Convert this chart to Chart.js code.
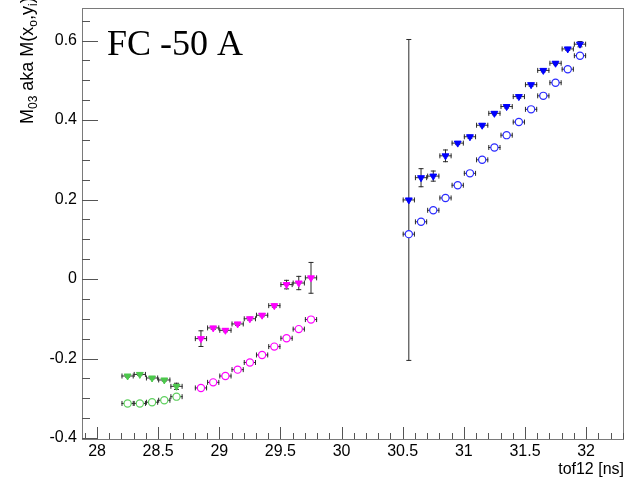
<!DOCTYPE html>
<html><head><meta charset="utf-8">
<script src="https://cdn.jsdelivr.net/npm/chart.js@4/dist/chart.umd.min.js"></script>
<style>html,body{margin:0;padding:0;background:#fff}canvas{display:block}</style>
</head><body>
<canvas id="c" width="630" height="479"></canvas>
<script>
// ---- data ----
const xGreen = [28.25, 28.35, 28.45, 28.55, 28.65];
const greenTri = [-0.244, -0.240, -0.249, -0.254, -0.270];
const greenTriErr = [0.004, 0.004, 0.004, 0.004, 0.009];
const greenCirc = [-0.313, -0.313, -0.310, -0.305, -0.296];

const xMag = [28.85, 28.95, 29.05, 29.15, 29.25, 29.35, 29.45, 29.55, 29.65, 29.75];
const magTri = [-0.150, -0.123, -0.129, -0.113, -0.100, -0.091, -0.067, -0.014, -0.010, 0.003];
const magTriErr = [0.021, 0.005, 0.005, 0.005, 0.005, 0.005, 0.005, 0.012, 0.018, 0.040];
const magCirc = [-0.274, -0.260, -0.244, -0.228, -0.210, -0.191, -0.170, -0.149, -0.126, -0.102];

const xBlue = [30.55, 30.65, 30.75, 30.85, 30.95, 31.05, 31.15, 31.25, 31.35, 31.45, 31.55, 31.65, 31.75, 31.85, 31.95];
const blueTri = [0.199, 0.255, 0.259, 0.310, 0.342, 0.358, 0.387, 0.417, 0.434, 0.459, 0.489, 0.525, 0.543, 0.579, 0.591];
const blueTriErr = [0.405, 0.024, 0.014, 0.016, 0.005, 0.005, 0.005, 0.005, 0.005, 0.005, 0.005, 0.005, 0.005, 0.005, 0.008];
const blueCirc = [0.113, 0.144, 0.173, 0.204, 0.236, 0.266, 0.300, 0.331, 0.362, 0.395, 0.427, 0.461, 0.494, 0.528, 0.562];

const xHalfBin = 0.05;
const xTickLabels = [28, 28.5, 29, 29.5, 30, 30.5, 31, 31.5, 32];
const yTickLabels = [-0.4, -0.2, 0, 0.2, 0.4, 0.6];
const plotTitle = 'FC -50 A';
const xTitle = 'tof12 [ns]';

// ---- build datasets ----
function pts(xs, ys, ex, ey) {
  return xs.map((x, i) => ({x: x, y: ys[i], ex: ex, ey: ey ? ey[i] : 0}));
}
const GREEN = '#4cc84c', GREEN_C = '#5ed05e', MAG = '#ff00ff', BLUE = '#0000ff', BLUE_C = '#2a2aff';
function triSet(data, col) {
  return {data, pointStyle: 'triangle', rotation: 180, radius: 4, backgroundColor: col, borderColor: col, borderWidth: 1};
}
function circSet(data, col) {
  return {data, pointStyle: 'circle', radius: 3.6, backgroundColor: '#ffffff', borderColor: col, borderWidth: 1.2};
}

const errorBars = {
  id: 'errorBars',
  beforeDatasetsDraw(chart) {
    const {ctx, scales: {x, y}} = chart;
    ctx.save();
    ctx.strokeStyle = '#2a2a2a';
    ctx.lineWidth = 1;
    chart.data.datasets.forEach(ds => {
      ds.data.forEach(p => {
        const px = x.getPixelForValue(p.x), py = y.getPixelForValue(p.y);
        const x0 = x.getPixelForValue(p.x - p.ex), x1 = x.getPixelForValue(p.x + p.ex);
        ctx.beginPath();
        ctx.moveTo(x0, py); ctx.lineTo(x1, py);
        ctx.moveTo(x0 + 0.5, py - 2.5); ctx.lineTo(x0 + 0.5, py + 2.5);
        ctx.moveTo(x1 - 0.5, py - 2.5); ctx.lineTo(x1 - 0.5, py + 2.5);
        if (p.ey > 0) {
          const y0 = y.getPixelForValue(p.y - p.ey), y1 = y.getPixelForValue(p.y + p.ey);
          ctx.moveTo(px, y0); ctx.lineTo(px, y1);
          ctx.moveTo(px - 2.5, y0 - 0.5); ctx.lineTo(px + 2.5, y0 - 0.5);
          ctx.moveTo(px - 2.5, y1 + 0.5); ctx.lineTo(px + 2.5, y1 + 0.5);
        }
        ctx.stroke();
      });
    });
    ctx.restore();
  }
};

const frameAndText = {
  id: 'frameAndText',
  afterDraw(chart) {
    const {ctx, chartArea: a, scales: {x, y}} = chart;
    ctx.save();
    // frame
    ctx.strokeStyle = '#7a7a7a';
    ctx.lineWidth = 1;
    ctx.strokeRect(a.left + 0.5, a.top + 0.5, a.right - a.left - 1, a.bottom - a.top);
    // ticks
    ctx.strokeStyle = '#555';
    ctx.beginPath();
    for (let k = Math.ceil(x.min * 10); k <= Math.floor(x.max * 10); k++) {
      const v = k / 10, px = Math.round(x.getPixelForValue(v)) + 0.5;
      const len = (k % 5 === 0) ? 12 : 6;
      ctx.moveTo(px, a.bottom); ctx.lineTo(px, a.bottom - len);
    }
    for (let k = Math.ceil(y.min * 20); k <= Math.floor(y.max * 20); k++) {
      const v = k / 20, py = Math.round(y.getPixelForValue(v)) + 0.5;
      const len = (k % 4 === 0) ? 16 : 8;
      ctx.moveTo(a.left, py); ctx.lineTo(a.left + len, py);
    }
    ctx.stroke();
    // title
    ctx.fillStyle = '#000';
    ctx.font = '36px "Liberation Serif"';
    ctx.textBaseline = 'alphabetic';
    ctx.textAlign = 'left';
    ctx.fillText(plotTitle, 107, 55);
    // y-axis title with subscripts
    ctx.translate(33, 124);
    ctx.rotate(-Math.PI / 2);
    const big = '18px "Liberation Sans"', small = '12px "Liberation Sans"';
    const parts = [['M', 0], ['03', 1], [' aka M(x', 0], ['o', 1], [',y', 0], ['i', 1], [')', 0]];
    let cx = 0;
    parts.forEach(([t, sub]) => {
      ctx.font = sub ? small : big;
      ctx.fillText(t, cx, sub ? 4 : 0);
      cx += ctx.measureText(t).width;
    });
    ctx.restore();
  }
};

new Chart(document.getElementById('c'), {
  type: 'scatter',
  data: {
    datasets: [
      circSet(pts(xGreen, greenCirc, xHalfBin), GREEN_C),
      triSet(pts(xGreen, greenTri, xHalfBin, greenTriErr), GREEN),
      circSet(pts(xMag, magCirc, xHalfBin), MAG),
      triSet(pts(xMag, magTri, xHalfBin, magTriErr), MAG),
      circSet(pts(xBlue, blueCirc, xHalfBin), BLUE_C),
      triSet(pts(xBlue, blueTri, xHalfBin, blueTriErr), BLUE)
    ]
  },
  options: {
    responsive: false,
    animation: false,
    layout: {padding: {top: 8, right: 6, left: 0, bottom: 0}},
    plugins: {legend: {display: false}, tooltip: {enabled: false}},
    scales: {
      x: {
        type: 'linear', min: 27.877, max: 32.31,
        afterBuildTicks: s => { s.ticks = xTickLabels.map(v => ({value: v})); },
        afterFit: s => { s.height = 40; s.paddingLeft = 0; s.paddingRight = 0; s.paddingTop = 0; s.paddingBottom = 0; },
        grid: {display: false, drawTicks: false},
        border: {display: false},
        ticks: {autoSkip: false, maxRotation: 0, padding: 3, color: '#000',
                font: {family: 'Liberation Sans', size: 16},
                callback: v => String(v)},
        title: {display: true, text: xTitle, align: 'end', color: '#000',
                font: {family: 'Liberation Sans', size: 16}, padding: {top: 0, bottom: 0}}
      },
      y: {
        type: 'linear', min: -0.4025, max: 0.682,
        afterBuildTicks: s => { s.ticks = yTickLabels.map(v => ({value: v})); },
        afterFit: s => { s.width = 82; s.paddingLeft = 0; s.paddingRight = 0; s.paddingTop = 0; s.paddingBottom = 0; },
        grid: {display: false, drawTicks: false},
        border: {display: false},
        ticks: {autoSkip: false, padding: 5, color: '#000',
                font: {family: 'Liberation Sans', size: 16},
                callback: v => String(v)}
      }
    }
  },
  plugins: [errorBars, frameAndText]
});
</script>
</body></html>
